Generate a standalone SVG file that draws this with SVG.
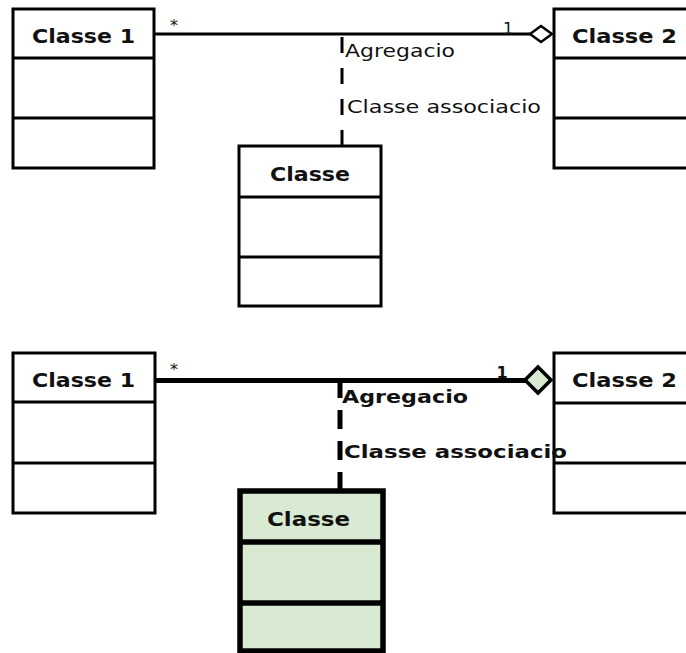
<svg xmlns="http://www.w3.org/2000/svg" width="686" height="653" viewBox="0 0 686 653">
  <style>
    .box { fill: #ffffff; stroke: #000000; stroke-width: 3; }
    .sep { stroke: #000000; stroke-width: 3; }
    .hl .box { fill: #d9ead3; stroke-width: 5.5; }
    .hl .sep { stroke-width: 5.5; }
    .name { font-family: "DejaVu Sans", Verdana, sans-serif; font-weight: bold; font-size: 20px; fill: #111111; }
    .lbl { font-family: "DejaVu Sans", Verdana, sans-serif; font-size: 17px; fill: #111111; }
    .lblb { font-family: "DejaVu Sans", Verdana, sans-serif; font-size: 17px; font-weight: bold; fill: #111111; }
    .mult { font-family: "DejaVu Sans", Verdana, sans-serif; font-size: 16px; fill: #111111; text-anchor: middle; }
    .assoc { fill: none; stroke: #000000; }
  </style>

  <rect width="686" height="653" fill="#ffffff"/>

  <!-- upper model: plain association class -->
  <g id="top-classe1">
    <rect class="box" x="13" y="9" width="141" height="159"/>
    <line class="sep" x1="13" y1="58" x2="154" y2="58"/>
    <line class="sep" x1="13" y1="118" x2="154" y2="118"/>
    <text class="name" x="32" y="43" textLength="103" lengthAdjust="spacingAndGlyphs">Classe 1</text>
  </g>
  <g id="top-classe2">
    <rect class="box" x="554" y="9" width="150" height="159"/>
    <line class="sep" x1="554" y1="58" x2="704" y2="58"/>
    <line class="sep" x1="554" y1="118" x2="704" y2="118"/>
    <text class="name" x="572" y="43" textLength="105" lengthAdjust="spacingAndGlyphs">Classe 2</text>
  </g>
  <g id="top-classe">
    <rect class="box" x="239" y="146" width="142" height="160"/>
    <line class="sep" x1="239" y1="197" x2="381" y2="197"/>
    <line class="sep" x1="239" y1="257" x2="381" y2="257"/>
    <text class="name" x="270" y="181" textLength="80" lengthAdjust="spacingAndGlyphs">Classe</text>
  </g>

  <!-- lower model: highlighted association class -->
  <g id="bottom-classe1">
    <rect class="box" x="13" y="353" width="142" height="160"/>
    <line class="sep" x1="13" y1="402" x2="155" y2="402"/>
    <line class="sep" x1="13" y1="463" x2="155" y2="463"/>
    <text class="name" x="32" y="387" textLength="103" lengthAdjust="spacingAndGlyphs">Classe 1</text>
  </g>
  <g id="bottom-classe2">
    <rect class="box" x="554" y="353" width="150" height="160"/>
    <line class="sep" x1="554" y1="403" x2="704" y2="403"/>
    <line class="sep" x1="554" y1="463" x2="704" y2="463"/>
    <text class="name" x="572" y="387" textLength="105" lengthAdjust="spacingAndGlyphs">Classe 2</text>
  </g>
  <g id="bottom-classe" class="hl">
    <rect class="box" x="240" y="491" width="143" height="160"/>
    <line class="sep" x1="240" y1="542" x2="383" y2="542"/>
    <line class="sep" x1="240" y1="603" x2="383" y2="603"/>
    <text class="name" x="267" y="526" textLength="83" lengthAdjust="spacingAndGlyphs">Classe</text>
  </g>

  <!-- connectors -->
  <g id="connectors">
    <!-- upper aggregation -->
    <line class="assoc" x1="154" y1="34" x2="531" y2="34" stroke-width="3"/>
    <polygon points="530,34 541,26 552,34 541,42" fill="#ffffff" stroke="#000000" stroke-width="2.5"/>
    <path class="assoc" d="M342 146V34" stroke-width="3" stroke-dasharray="16 15"/>
    <text class="mult" x="174" y="31">*</text>
    <text class="mult" x="508" y="34">1</text>
    <text class="lbl" x="345" y="57" textLength="110" lengthAdjust="spacingAndGlyphs">Agregacio</text>
    <text class="lbl" x="347" y="113" textLength="194" lengthAdjust="spacingAndGlyphs">Classe associacio</text>

    <!-- lower aggregation -->
    <line class="assoc" x1="155" y1="380.5" x2="526" y2="380.5" stroke-width="5"/>
    <polygon points="525,380 538,367 551,380 538,393" fill="#d9ead3" stroke="#000000" stroke-width="3.5"/>
    <path class="assoc" d="M340 491V381" stroke-width="5" stroke-dasharray="19 12"/>
    <text class="mult" x="174" y="375">*</text>
    <text class="mult" x="502" y="378" font-weight="bold">1</text>
    <text class="lblb" x="342" y="403" textLength="126" lengthAdjust="spacingAndGlyphs">Agregacio</text>
    <text class="lblb" x="344" y="458" textLength="223" lengthAdjust="spacingAndGlyphs">Classe associacio</text>
  </g>
</svg>
